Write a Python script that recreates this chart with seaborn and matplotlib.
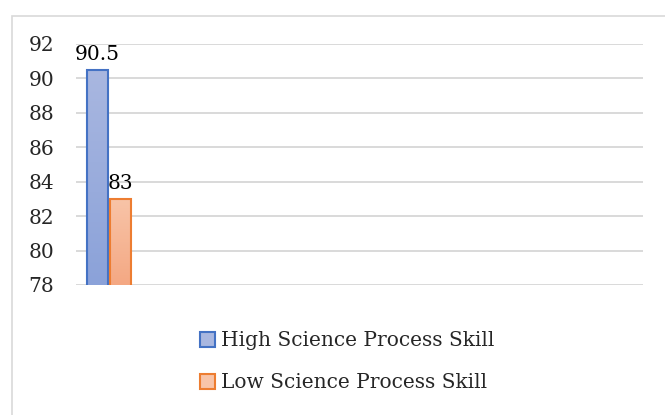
import matplotlib
matplotlib.use('Agg')
import matplotlib.pyplot as plt
import matplotlib.colors as mcolors
from matplotlib.patches import Rectangle, Patch
import seaborn as sns
import numpy as np
import pandas as pd

# datos
grupos = ["High Science Process Skill", "Low Science Process Skill"]
puntajes = [90.5, 83]
categoria = [""] * len(grupos)

bordes = ["#4472C4", "#ED7D31"]
gradientes = [("#A9B7E0", "#8BA2D9"), ("#F8C4A8", "#F4A883")]

df = pd.DataFrame({"cat": categoria, "grupo": grupos, "puntaje": puntajes})

sns.set_style("white")
plt.rcParams['font.family'] = ['DejaVu Serif']

fig = plt.figure(figsize=(6.65, 4.15), dpi=100)
ax = fig.add_axes([0.1143, 0.3133, 0.8526, 0.5807])

# marco del gráfico
fig.patches.append(Rectangle((12 / 665, -0.1), 1.2, 1 - 16 / 415 + 0.1,
                             transform=fig.transFigure, fill=False,
                             edgecolor="#d9d9d9", linewidth=1.2, zorder=0))

sns.barplot(data=df, x="cat", y="puntaje", hue="grupo", palette=bordes,
            width=0.8, gap=0.1, ax=ax, legend=False, zorder=3)

ax.set_ylim(78, 92)
ax.set_xlim(-0.574, 9.29)
ax.set_yticks(np.arange(78, 93, 2))
ax.yaxis.grid(True, color="#d9d9d9", linewidth=1.4, zorder=0)
ax.set_axisbelow(True)
for s in ax.spines.values():
    s.set_visible(False)
ax.set_xticks([])
ax.set_xlabel("")
ax.set_ylabel("")
ax.tick_params(axis="y", length=0, pad=15.5, labelsize=14.5)

# relleno degradado estilo Excel
for p, borde, (c_top, c_bot), val in zip(ax.patches, bordes, gradientes, puntajes):
    x0 = p.get_x()
    w = p.get_width()
    p.set_facecolor("none")
    p.set_edgecolor(borde)
    p.set_linewidth(1.5)
    cmap = mcolors.LinearSegmentedColormap.from_list("g", [c_bot, c_top])
    grad = np.linspace(0, 1, 100).reshape(-1, 1)
    im = ax.imshow(grad, cmap=cmap, aspect="auto", origin="lower",
                   extent=(x0, x0 + w, 78, val), zorder=2)
    im.set_clip_path(p)
    ax.text(x0 + w / 2, val + 0.35, f"{val:g}", ha="center", va="bottom",
            fontsize=14.5, color="black")

ax.set_xlim(-0.574, 9.29)
ax.set_ylim(78, 92)

handles = [Patch(facecolor=g[0], edgecolor=b, linewidth=1.5)
           for b, g in zip(bordes, gradientes)]
fig.legend(handles, grupos, loc="center", bbox_to_anchor=(0.522, 0.128),
           ncol=1, frameon=False, fontsize=14.5, handlelength=0.75,
           handleheight=0.75, handletextpad=0.3, labelspacing=1.15)

plt.savefig("out.png", dpi=100)
